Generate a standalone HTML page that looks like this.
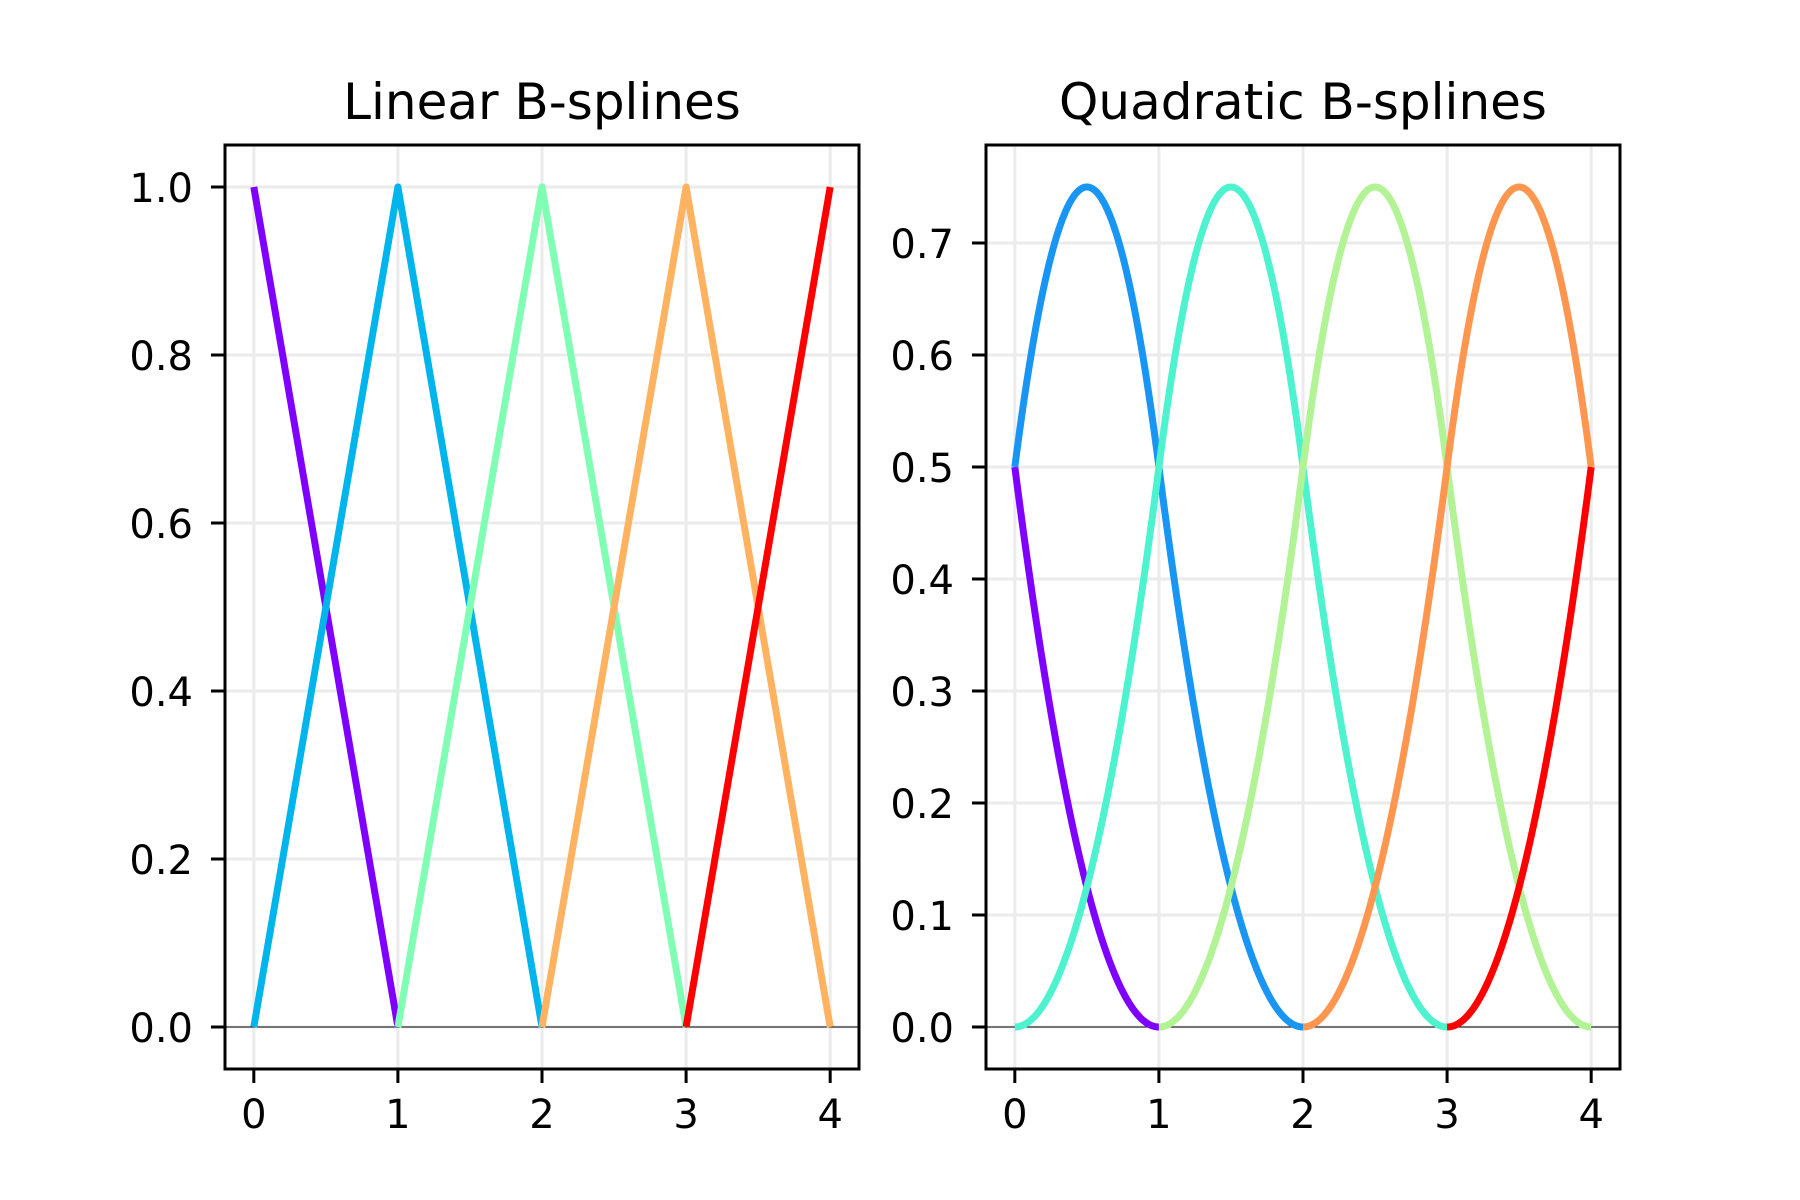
<!DOCTYPE html>
<html><head><meta charset="utf-8"><style>
html,body{margin:0;padding:0;background:#fff}
svg{display:block}
text{font-family:"DejaVu Sans","Liberation Sans",sans-serif;fill:#000}
</style></head><body>
<svg id="fig" width="1800" height="1200" viewBox="0 0 1800 1200" xmlns="http://www.w3.org/2000/svg"></svg>
<script>
// data
const xTicks = [0, 1, 2, 3, 4];
const linYTicks = [0.0, 0.2, 0.4, 0.6, 0.8, 1.0];
const linYLabels = ["0.0", "0.2", "0.4", "0.6", "0.8", "1.0"];
const quadYTicks = [0.0, 0.1, 0.2, 0.3, 0.4, 0.5, 0.6, 0.7];
const quadYLabels = ["0.0", "0.1", "0.2", "0.3", "0.4", "0.5", "0.6", "0.7"];
const linCenters = [0, 1, 2, 3, 4];
const linColors = ["#8000ff", "#00b5eb", "#80ffb4", "#ffb360", "#ff0000"];
const quadStarts = [-2, -1, 0, 1, 2, 3];
const quadColors = ["#8000ff", "#1996f3", "#4df3ce", "#b2f396", "#ff964f", "#ff0000"];
const titles = ["Linear B-splines", "Quadratic B-splines"];

const NS = "http://www.w3.org/2000/svg";
const svg = document.getElementById("fig");
function mk(tag, attrs, parent) {
  const e = document.createElementNS(NS, tag);
  for (const k in attrs) e.setAttribute(k, attrs[k]);
  (parent || svg).appendChild(e);
  return e;
}
function hat(x, c) { return Math.max(0, 1 - Math.abs(x - c)); }
function quad(x, s) {
  const t = x - s;
  if (t < 0 || t > 3) return 0;
  if (t < 1) return 0.5 * t * t;
  if (t < 2) return 0.75 - (t - 1.5) * (t - 1.5);
  return 0.5 * (3 - t) * (3 - t);
}

function panel(opts) {
  const {left, right, top, bottom, xmin, xmax, ymin, ymax, yTicks, yLabels, name, title} = opts;
  const g = mk("g", {});
  
  
  const sx = v => left + (v - xmin) / (xmax - xmin) * (right - left);
  const sy = v => bottom - (v - ymin) / (ymax - ymin) * (bottom - top);
  xTicks.forEach(t => {
    const l = mk("line", {x1: sx(t), x2: sx(t), y1: top, y2: bottom, stroke: "#ebebeb", "stroke-width": 3}, g);
    
    
  });
  yTicks.forEach(t => {
    const l = mk("line", {x1: left, x2: right, y1: sy(t), y2: sy(t), stroke: "#ebebeb", "stroke-width": 3}, g);
    
    
  });
  const z = mk("line", {x1: left, x2: right, y1: sy(0), y2: sy(0), stroke: "#000", "stroke-width": 1}, g);
  
  
  opts.series.forEach((s, i) => {
    let d = "";
    const N = 400;
    const a = Math.max(0, s.lo), b = Math.min(4, s.hi);
    for (let k = 0; k <= N; k++) {
      const x = a + (b - a) * k / N;
      const y = s.f(x);
      d += (k ? "L" : "M") + sx(x).toFixed(2) + "," + sy(y).toFixed(2);
    }
    const p = mk("path", {d: d, fill: "none", stroke: s.color, "stroke-width": 7, "stroke-linejoin": "round"}, g);
    
    
  });
  const r = mk("rect", {x: left, y: top, width: right - left, height: bottom - top, fill: "none", stroke: "#000", "stroke-width": 3}, g);
  
  
  xTicks.forEach(t => {
    mk("line", {x1: sx(t), x2: sx(t), y1: bottom, y2: bottom + 14, stroke: "#000", "stroke-width": 3}, g);
    const tx = mk("text", {x: sx(t), y: 1128, "text-anchor": "middle", "font-size": 40}, g);
    tx.textContent = String(t);
    
    
  });
  yTicks.forEach((t, i) => {
    mk("line", {x1: left - 14, x2: left, y1: sy(t), y2: sy(t), stroke: "#000", "stroke-width": 3}, g);
    const tx = mk("text", {x: left - 32, y: sy(t) + 15, "text-anchor": "end", "font-size": 40}, g);
    tx.textContent = yLabels[i];
    
    
  });
  const tt = mk("text", {x: (left + right) / 2, y: 119, "text-anchor": "middle", "font-size": 50}, g);
  tt.textContent = title;
  
  
}

panel({left: 225, right: 859, top: 145, bottom: 1069, xmin: -0.2, xmax: 4.2, ymin: -0.05, ymax: 1.05,
  yTicks: linYTicks, yLabels: linYLabels, name: 'linear-bsplines-panel', title: titles[0],
  series: linCenters.map((c, i) => ({color: linColors[i], lo: c - 1, hi: c + 1, f: x => hat(x, c)}))});
panel({left: 986, right: 1620, top: 145, bottom: 1069, xmin: -0.2, xmax: 4.2, ymin: -0.0375, ymax: 0.7875,
  yTicks: quadYTicks, yLabels: quadYLabels, name: 'quadratic-bsplines-panel', title: titles[1],
  series: quadStarts.map((s, i) => ({color: quadColors[i], lo: s, hi: s + 3, f: x => quad(x, s)}))});
</script>
</body></html>
